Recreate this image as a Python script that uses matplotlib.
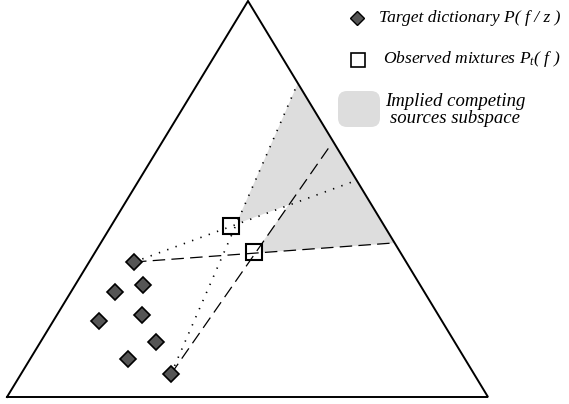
import numpy as np
import matplotlib.pyplot as plt
from matplotlib.patches import Polygon, FancyBboxPatch

plt.rcParams['font.family'] = 'Liberation Serif'
plt.rcParams['mathtext.fontset'] = 'custom'
plt.rcParams['mathtext.it'] = 'Liberation Serif:italic'
plt.rcParams['mathtext.rm'] = 'Liberation Serif:italic'

# simplex corners (left, right, top), drawn in a y-down frame
corners = np.array([[7, 397], [488, 397], [248, 1]])

# target dictionary points P(f|z)
dict_x = [134, 143, 115, 142, 99, 156, 128, 171]
dict_y = [262, 285, 292, 315, 321, 342, 359, 374]

# observed mixtures P_t(f)
mix_x = [231, 254]
mix_y = [226, 252]

# rays from the two extreme dictionary points through the mixtures
dot_rays = [((134, 262), (352, 182)), ((171, 374), (297, 85))]
dash_rays = [((134, 262), (393, 243)), ((171, 374), (330, 146))]

# competing sources region: one cone per mixture, clipped by the simplex edge
cone1 = [(236, 224), (298, 83), (357, 180)]
cone2 = [(255, 253), (333, 141), (395, 243)]

fig = plt.figure(figsize=(5.69, 4.04), dpi=100)
ax = fig.add_axes([0, 0, 1, 1])
ax.set_xlim(0, 569)
ax.set_ylim(404, 0)
ax.axis('off')

for c in (cone1, cone2):
    ax.add_patch(Polygon(c, closed=True, facecolor='#dddddd', edgecolor='none', zorder=1))

tri = np.vstack([corners, corners[:1]])
ax.plot(tri[:, 0], tri[:, 1], color='black', lw=1.4, zorder=2, solid_joinstyle='miter')

for (x0, y0), (x1, y1) in dot_rays:
    ax.plot([x0, x1], [y0, y1], color='black', lw=1.2, dashes=(0.8, 4.5), zorder=4)
for (x0, y0), (x1, y1) in dash_rays:
    ax.plot([x0, x1], [y0, y1], color='black', lw=0.9, dashes=(10, 5), zorder=4)

ax.plot(mix_x, mix_y, 's', ms=11.5, mfc='white', mec='black', mew=1.5, zorder=3)
ax.plot(dict_x, dict_y, 'D', ms=8, mfc='#555555', mec='black', mew=1.2, zorder=5)

# legend
ax.plot([357], [18], 'D', ms=7, mfc='#555555', mec='black', mew=1.0)
ax.text(379, 18, 'Target dictionary P( f / z )', style='italic', fontsize=12.6,
        va='center', ha='left')
ax.plot([358], [60], 's', ms=10.5, mfc='white', mec='black', mew=1.2)
ax.text(383, 59, r'Observed mixtures $P_t$( f )', style='italic', fontsize=12.6,
        va='center', ha='left')
ax.add_patch(FancyBboxPatch((341, 94), 36, 30, boxstyle='round,pad=3,rounding_size=9',
                            facecolor='#dddddd', edgecolor='none'))
ax.text(455, 110, 'Implied competing\nsources subspace', style='italic', fontsize=13.5,
        va='center', ha='center', linespacing=1.05)

fig.savefig('out.png', dpi=100)
